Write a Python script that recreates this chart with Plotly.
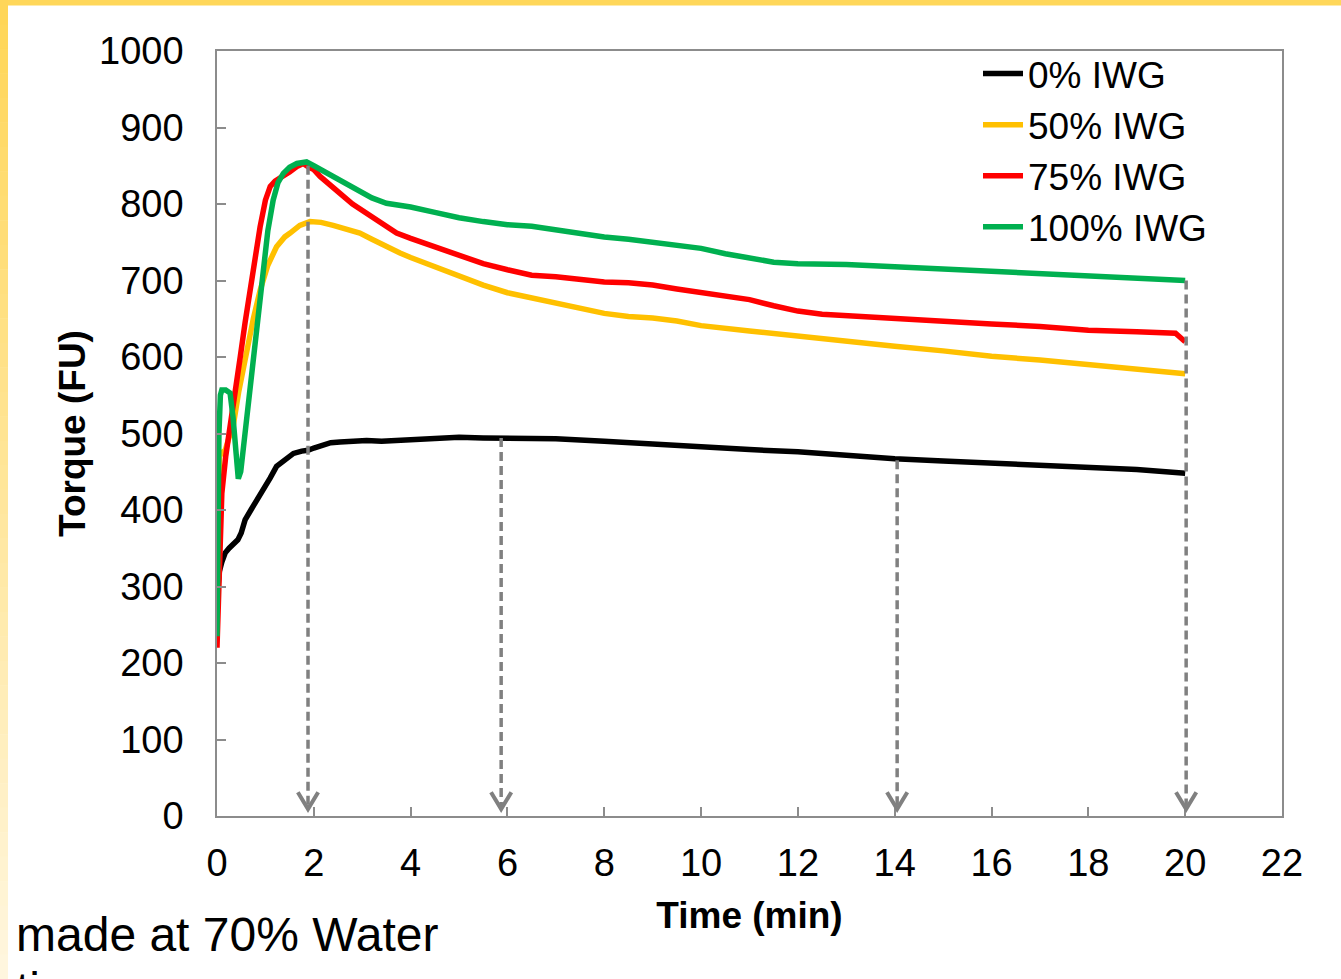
import plotly.graph_objects as go

# ---------------- data ----------------
series_names = ["0% IWG", "50% IWG", "75% IWG", "100% IWG"]
series_colors = ["#000000", "#FFC000", "#FF0000", "#00B050"]

time_0 = [0.02, 0.05, 0.1, 0.17, 0.25, 0.35, 0.43, 0.5, 0.58, 0.7, 0.85, 0.99, 1.1, 1.23, 1.4,
          1.58, 1.75, 1.88, 2.0, 2.19, 2.35, 2.54, 2.8, 3.09, 3.4, 3.64, 4.0, 4.5, 5.0, 5.5, 6.0,
          7.0, 8.0, 9.0, 10.0, 11.0, 12.0, 13.0, 14.0, 15.0, 16.0, 17.0, 18.0, 19.0, 20.0]
torque_0 = [300, 320, 332, 344, 350, 356, 361, 370, 387, 400, 415, 430, 442, 457, 466,
            474, 477, 478, 481, 485, 488, 489, 490, 491, 490, 491, 492, 493, 495, 494, 494,
            493, 490, 486, 482, 479, 476, 471, 467, 464, 461, 458, 456, 453, 448]

time_50 = [0.0, 0.02, 0.05, 0.1, 0.17, 0.25, 0.33, 0.45, 0.61, 0.75, 0.89, 1.05, 1.23, 1.4,
           1.51, 1.71, 1.92, 2.15, 2.4, 2.7, 2.95, 3.2, 3.5, 3.78, 4.0, 4.5, 5.0, 5.5, 6.0,
           6.5, 7.0, 7.5, 8.0, 8.5, 9.0, 9.5, 10.0, 11.0, 12.0, 13.0, 14.0, 15.0, 16.0, 17.0,
           18.0, 19.0, 20.0]
torque_50 = [250, 450, 470, 475, 478, 495, 508, 555, 609, 650, 687, 720, 744, 757,
             762, 772, 777, 776, 772, 767, 762, 754, 744, 736, 730, 718, 706, 694, 684,
             677, 671, 664, 657, 653, 651, 647, 641, 634, 627, 621, 614, 608, 601, 596,
             590, 584, 578]

time_75 = [0.0, 0.03, 0.06, 0.1, 0.18, 0.27, 0.37, 0.48, 0.58, 0.68, 0.78, 0.89, 1.0, 1.1,
           1.2, 1.37, 1.5, 1.65, 1.78, 1.9, 2.0, 2.13, 2.3, 2.54, 2.8, 3.09, 3.4, 3.71, 4.0,
           4.5, 5.0, 5.5, 6.0, 6.5, 7.0, 7.5, 8.0, 8.5, 9.0, 9.5, 10.0, 10.5, 11.0, 11.5,
           12.0, 12.5, 13.0, 13.5, 14.0, 15.0, 16.0, 17.0, 18.0, 19.0, 19.8, 20.0]
torque_75 = [220, 300, 380, 422, 470, 513, 555, 600, 645, 687, 730, 770, 805, 823,
             830, 836, 842, 849, 853, 848, 845, 836, 826, 814, 800, 788, 774, 762, 755,
             744, 733, 722, 714, 707, 705, 702, 698, 697, 694, 689, 684, 680, 675, 667,
             660, 656, 654, 652, 651, 647, 643, 640, 635, 633, 631, 620]

time_100 = [0.0, 0.02, 0.04, 0.07, 0.1, 0.18, 0.27, 0.33, 0.38, 0.44, 0.49, 0.54, 0.65, 0.75,
            0.85, 0.95, 1.05, 1.16, 1.26, 1.37, 1.5, 1.65, 1.85, 2.0, 2.2, 2.4, 2.7, 2.95,
            3.2, 3.5, 4.0, 4.5, 5.0, 5.5, 6.0, 6.5, 7.0, 7.5, 8.0, 8.5, 9.0, 9.5, 10.0,
            10.5, 11.0, 11.5, 12.0, 13.0, 14.0, 15.0, 16.0, 17.0, 18.0, 19.0, 20.0]
torque_100 = [235, 400, 500, 550, 557, 557, 553, 522, 480, 441, 450, 478, 545, 609,
              665, 718, 765, 805, 828, 840, 848, 853, 855, 850, 843, 836, 826, 816,
              808, 801, 796, 789, 782, 777, 773, 771, 766, 762, 757, 754, 750, 747, 742,
              735, 729, 724, 722, 721, 718, 715, 711, 709, 706, 703, 700]

arrow_times = [1.88, 5.87, 14.05, 20.02]
arrow_tops = [850, 494, 465, 700]

x_ticks = list(range(0, 23, 2))
y_ticks = list(range(0, 1001, 100))

note_line1 = "made at 70% Water"
note_line2 = "time"

# ---------------- figure ----------------
W, H = 1341, 979
ML, MR, MT, MB = 217, 59, 51, 163
PW, PH = W - ML - MR, H - MT - MB


def px2paper_x(px):
    return (px - ML) / PW


def py2paper_y(py):
    return (H - MB - py) / PH


FONT = "Liberation Sans, Arial, sans-serif"

fig = go.Figure()
all_t = [time_0, time_50, time_75, time_100]
all_y = [torque_0, torque_50, torque_75, torque_100]
for name, col, t, y in zip(series_names, series_colors, all_t, all_y):
    fig.add_trace(go.Scatter(x=t, y=y, mode="lines", name=name,
                             line=dict(color=col, width=5.5)))

shapes = []
# dashed arrows
for xt, yt in zip(arrow_times, arrow_tops):
    shapes.append(dict(type="line", xref="x", yref="y", x0=xt, x1=xt, y0=yt, y1=10,
                       line=dict(color="#808080", width=3.5, dash="9px,5px"), layer="above"))
    shapes.append(dict(type="path", xref="x", yref="y",
                       path=f"M {xt-0.21},31 L {xt},9 L {xt+0.21},31",
                       line=dict(color="#808080", width=4), layer="above"))

# decorative slide frame: top bar and left gradient bar
shapes.append(dict(type="rect", xref="paper", yref="paper",
                   x0=px2paper_x(0), x1=px2paper_x(W), y0=py2paper_y(5.5), y1=py2paper_y(0),
                   fillcolor="#FFD75A", line=dict(width=0), layer="above"))
n_seg = 40
c_top = (255, 214, 88)
c_bot = (255, 246, 222)
for i in range(n_seg):
    f = i / (n_seg - 1)
    c = tuple(int(round(a + (b - a) * f)) for a, b in zip(c_top, c_bot))
    y0p = H * i / n_seg
    y1p = H * (i + 1) / n_seg
    shapes.append(dict(type="rect", xref="paper", yref="paper",
                       x0=px2paper_x(0), x1=px2paper_x(8),
                       y0=py2paper_y(y1p + 0.5), y1=py2paper_y(y0p),
                       fillcolor=f"rgb{c}", line=dict(width=0), layer="above"))

annotations = [
    dict(text=note_line1, xref="paper", yref="paper", x=px2paper_x(14), y=py2paper_y(963),
         xanchor="left", yanchor="bottom", showarrow=False,
         font=dict(family=FONT, size=48, color="black")),
    dict(text=note_line2, xref="paper", yref="paper", x=px2paper_x(14), y=py2paper_y(961),
         xanchor="left", yanchor="top", showarrow=False,
         font=dict(family=FONT, size=48, color="black")),
]

axis_common = dict(showline=True, mirror=True, linecolor="#8c8c8c", linewidth=1.5,
                   ticks="inside", ticklen=9, tickcolor="#8c8c8c", tickwidth=1.5,
                   showgrid=False, zeroline=False,
                   tickfont=dict(family=FONT, size=38, color="black"))

fig.update_layout(
    width=W, height=H,
    margin=dict(l=ML, r=MR, t=MT, b=MB, autoexpand=False),
    paper_bgcolor="white", plot_bgcolor="white",
    font=dict(family=FONT, color="black"),
    xaxis=dict(range=[0, 22], tickvals=x_ticks, ticklabelstandoff=13,
               title=dict(text="<b>Time (min)</b>", standoff=19,
                          font=dict(family=FONT, size=37, color="black")),
               **axis_common),
    yaxis=dict(range=[0, 1000], tickvals=y_ticks, ticklabelstandoff=24,
               title=dict(text="<b>Torque (FU)</b>", standoff=2,
                          font=dict(family=FONT, size=37, color="black")),
               **axis_common),
    legend=dict(x=px2paper_x(978), y=py2paper_y(43), xanchor="left", yanchor="top",
                bgcolor="rgba(0,0,0,0)", borderwidth=0,
                font=dict(family=FONT, size=37, color="black"),
                itemwidth=40, tracegroupgap=0),
    shapes=shapes,
    annotations=annotations,
    showlegend=True,
)

fig.write_html("out.html")
